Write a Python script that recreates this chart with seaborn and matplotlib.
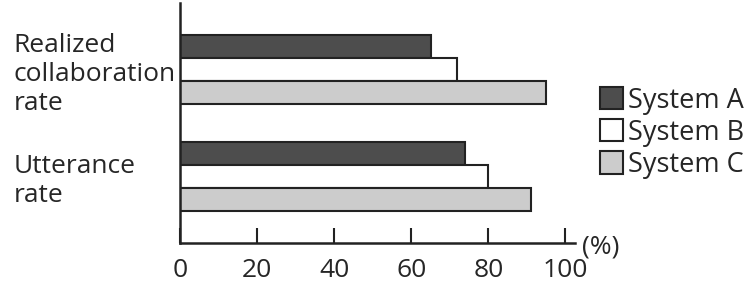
import pandas as pd
import matplotlib.pyplot as plt
import seaborn as sns

categories = ['Realized\ncollaboration\nrate', 'Utterance\nrate']
systems = ['System A', 'System B', 'System C']
system_a = [65, 74]
system_b = [72, 80]
system_c = [95, 91]
x_ticks = [0, 20, 40, 60, 80, 100]

df = pd.DataFrame({
    'Category': categories * 3,
    'System': [s for s in systems for _ in categories],
    'Rate': system_a + system_b + system_c,
})

sns.set_style('white')
plt.rcParams['font.family'] = ['Open Sans', 'DejaVu Sans']
fs = 19

fig = plt.figure(figsize=(7.5, 2.9), dpi=100)
ax = fig.add_axes([0.24, 0.162, 0.5267, 0.828])

sns.barplot(data=df, x='Rate', y='Category', hue='System', orient='h',
            palette=['#4d4d4d', '#ffffff', '#cccccc'], width=0.65,
            edgecolor='#222222', linewidth=1.5, ax=ax)

ax.set_xlim(0, 102.5)
ax.set_ylim(1.63, -0.63)
ax.set_xticks(x_ticks)
ax.set_xlabel('')
ax.set_ylabel('')
ax.tick_params(axis='x', direction='in', length=11, width=1.5, pad=11,
               labelsize=fs, color='#222222', bottom=True)
ax.tick_params(axis='y', length=0, pad=120, labelsize=fs)
for lab in ax.get_yticklabels():
    lab.set_horizontalalignment('left')
    lab.set_multialignment('left')

for side in ['top', 'right']:
    ax.spines[side].set_visible(False)
for side in ['left', 'bottom']:
    ax.spines[side].set_linewidth(1.8)
    ax.spines[side].set_color('#222222')

ax.text(1.018, -0.015, '(%)', transform=ax.transAxes, fontsize=fs,
        ha='left', va='center')

ax.legend(loc='center left', bbox_to_anchor=(1.035, 0.46), frameon=False,
          fontsize=19.5, handlelength=0.85, handleheight=0.9, handletextpad=0.2,
          labelspacing=0.15, borderaxespad=0)

fig.savefig('out.png', dpi=100)
